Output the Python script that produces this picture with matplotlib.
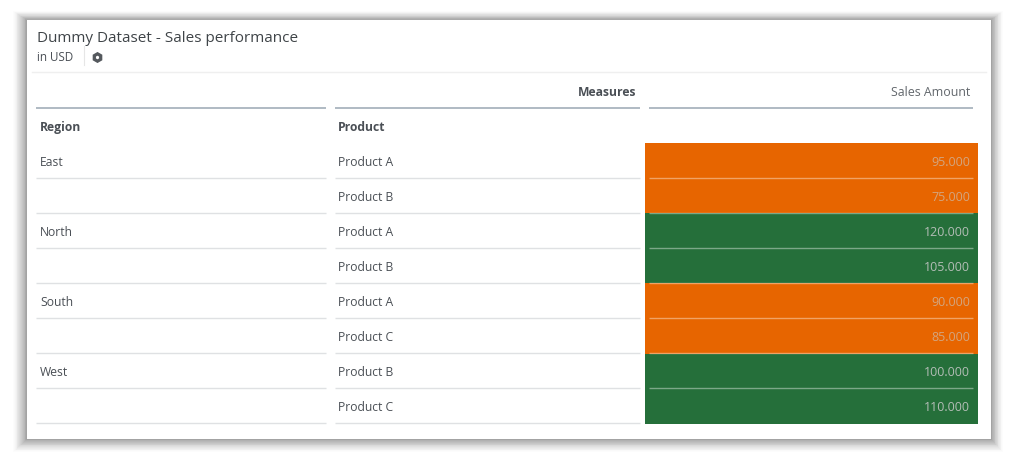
import matplotlib
matplotlib.use("Agg")
import matplotlib.pyplot as plt
from matplotlib.patches import Rectangle
import numpy as np

plt.rcParams['font.family'] = ['Open Sans', 'DejaVu Sans']

title = "Dummy Dataset - Sales performance"
subtitle = "in USD"
region_header = "Region"
product_header = "Product"
measures_header = "Measures"
measure_name = "Sales Amount"
regions = ["East", "", "North", "", "South", "", "West", ""]
products = ["Product A", "Product B", "Product A", "Product B",
            "Product A", "Product C", "Product B", "Product C"]
sales = [95000, 75000, 120000, 105000, 90000, 85000, 100000, 110000]
threshold = 100000

ORANGE = "#e76500"
GREEN = "#256f3a"
TXT = "#4a4f55"
HEAD_LINE = "#a9b4be"
ROW_LINE = "#dfe1e3"
FS = 8.7

fig = plt.figure(figsize=(10.2, 4.64), dpi=100, facecolor="white")
ax = fig.add_axes([0, 0, 1, 1])
ax.set_xlim(0, 1020)
ax.set_ylim(464, 0)
ax.axis("off")

# Card shadow: soft, heavier to the left and bottom
card = (27, 21, 991, 440)
w, h_card = card[2] - card[0], card[3] - card[1]
for f, a in zip(np.linspace(1, 0.05, 16), np.linspace(0.012, 0.06, 16)):
    l, r, t, b = 14 * f, 12 * f, 9 * f, 13 * f
    ax.add_patch(Rectangle((card[0] - l, card[1] - t), w + l + r, h_card + t + b,
                           fc="#404040", ec="none", alpha=a, zorder=1))
ax.add_patch(Rectangle((card[0], card[1]), w, h_card, fc="white", ec="none", zorder=2))

# Header
ax.text(37, 36, title, fontsize=10.95, color="#3f4448", va="center_baseline", zorder=5)
ax.text(37, 56, subtitle, fontsize=8.4, color=TXT, va="center_baseline", zorder=5)
ax.plot([84, 84], [47, 66], color="#e6e6e6", lw=0.8, zorder=4)
ax.plot([97], [58], marker="h", ms=8, color="#55595e", mew=0, zorder=5)
ax.plot([97], [58], marker="h", ms=2.6, color="white", mew=0, zorder=6)
ax.plot([32, 986], [73, 73], color="#efefef", lw=1, zorder=3)

# Column heads
ax.text(636, 91, measures_header, fontsize=FS, fontweight="bold", color=TXT, ha="right", va="center_baseline", zorder=5)
ax.text(970, 91, measure_name, fontsize=8.9, color="#62676c", ha="right", va="center_baseline", zorder=5)
for x0, x1 in [(36, 326), (335, 640), (649, 973)]:
    ax.plot([x0, x1], [108.5, 108.5], color=HEAD_LINE, lw=1.3, solid_capstyle="butt", zorder=4)
ax.text(40, 126, region_header, fontsize=FS, fontweight="bold", color=TXT, va="center_baseline", zorder=5)
ax.text(338, 126, product_header, fontsize=FS, fontweight="bold", color=TXT, va="center_baseline", zorder=5)

# Rows
top, h = 144, 35.1
for i, (reg, prod, val) in enumerate(zip(regions, products, sales)):
    y0 = top + i * h
    cy = y0 + h / 2 - 1
    over = val >= threshold
    ax.add_patch(Rectangle((645, y0), 333, h, fc=GREEN if over else ORANGE, ec="none", zorder=3))
    ax.text(40, cy, reg, fontsize=FS, color=TXT, va="center_baseline", zorder=5)
    ax.text(338, cy, prod, fontsize=FS, color=TXT, va="center_baseline", zorder=5)
    ax.text(970, cy, f"{val:,}".replace(",", "."), fontsize=9.0,
            color="#b3bdb6" if over else "#d3a57f", ha="right", va="center_baseline", zorder=5)
    yb = y0 + h - 0.6
    for x0, x1 in [(36, 326), (335, 640)]:
        ax.plot([x0, x1], [yb, yb], color=ROW_LINE, lw=1, solid_capstyle="butt", zorder=4)
    if i < len(sales) - 1:
        ax.plot([649, 973], [yb, yb], color="#ffffff", alpha=0.4, lw=1, solid_capstyle="butt", zorder=4)

fig.savefig("out.png", dpi=100, facecolor="white")
